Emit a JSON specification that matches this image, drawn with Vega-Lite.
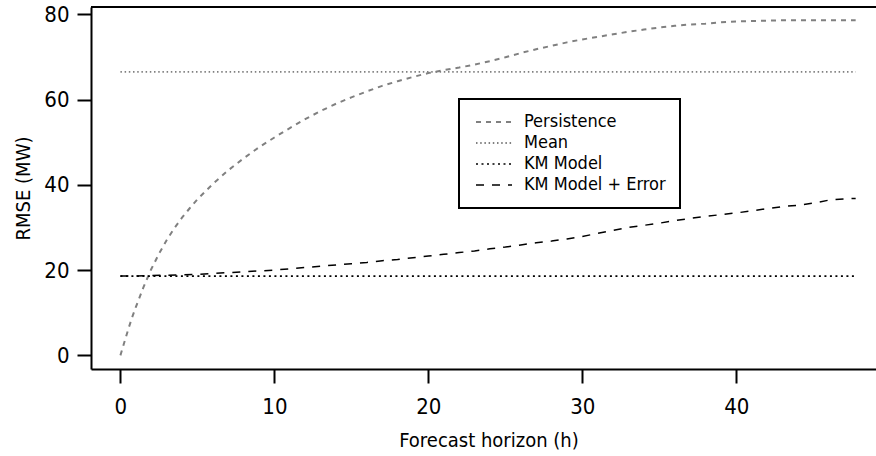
{
  "$schema": "https://vega.github.io/schema/vega-lite/v6.json",
  "width": 785,
  "height": 362,
  "autosize": {"type": "none"},
  "padding": {"left": 91, "top": 7, "right": 0, "bottom": 87},
  "background": "white",
  "config": {
    "view": {"stroke": null},
    "font": "DejaVu Sans Condensed, Roboto",
    "axis": {
      "grid": false,
      "domainColor": "black",
      "domainWidth": 2,
      "tickColor": "black",
      "tickWidth": 2,
      "tickSize": 14,
      "labelFont": "DejaVu Sans Condensed, Roboto",
      "labelFontSize": 22,
      "labelColor": "black",
      "titleFont": "DejaVu Sans Condensed, Roboto",
      "titleFontSize": 20,
      "titleFontWeight": "normal",
      "titleColor": "black"
    },
    "legend": {
      "labelFont": "DejaVu Sans Condensed, Roboto",
      "labelFontSize": 18,
      "labelColor": "black"
    }
  },
  "data": {
    "values": [
      {"h": 0, "rmse": 0, "series": "Persistence"},
      {"h": 0.25, "rmse": 3, "series": "Persistence"},
      {"h": 0.5, "rmse": 6, "series": "Persistence"},
      {"h": 0.75, "rmse": 8.8, "series": "Persistence"},
      {"h": 1, "rmse": 11.3, "series": "Persistence"},
      {"h": 1.5, "rmse": 16, "series": "Persistence"},
      {"h": 2, "rmse": 20.2, "series": "Persistence"},
      {"h": 2.5, "rmse": 23.8, "series": "Persistence"},
      {"h": 3, "rmse": 27, "series": "Persistence"},
      {"h": 3.5, "rmse": 29.8, "series": "Persistence"},
      {"h": 4, "rmse": 32.3, "series": "Persistence"},
      {"h": 4.5, "rmse": 34.5, "series": "Persistence"},
      {"h": 5, "rmse": 36.6, "series": "Persistence"},
      {"h": 6, "rmse": 40.2, "series": "Persistence"},
      {"h": 7, "rmse": 43.4, "series": "Persistence"},
      {"h": 8, "rmse": 46.2, "series": "Persistence"},
      {"h": 9, "rmse": 48.8, "series": "Persistence"},
      {"h": 10, "rmse": 51.1, "series": "Persistence"},
      {"h": 11, "rmse": 53.3, "series": "Persistence"},
      {"h": 12, "rmse": 55.4, "series": "Persistence"},
      {"h": 13, "rmse": 57.3, "series": "Persistence"},
      {"h": 14, "rmse": 59.0, "series": "Persistence"},
      {"h": 15, "rmse": 60.5, "series": "Persistence"},
      {"h": 16, "rmse": 61.9, "series": "Persistence"},
      {"h": 17, "rmse": 63.2, "series": "Persistence"},
      {"h": 18, "rmse": 64.3, "series": "Persistence"},
      {"h": 19, "rmse": 65.3, "series": "Persistence"},
      {"h": 20, "rmse": 66.2, "series": "Persistence"},
      {"h": 21, "rmse": 66.9, "series": "Persistence"},
      {"h": 22, "rmse": 67.5, "series": "Persistence"},
      {"h": 23, "rmse": 68.2, "series": "Persistence"},
      {"h": 24, "rmse": 69.0, "series": "Persistence"},
      {"h": 25, "rmse": 69.9, "series": "Persistence"},
      {"h": 26, "rmse": 70.9, "series": "Persistence"},
      {"h": 27, "rmse": 71.8, "series": "Persistence"},
      {"h": 28, "rmse": 72.6, "series": "Persistence"},
      {"h": 29, "rmse": 73.4, "series": "Persistence"},
      {"h": 30, "rmse": 74.1, "series": "Persistence"},
      {"h": 31, "rmse": 74.7, "series": "Persistence"},
      {"h": 32, "rmse": 75.3, "series": "Persistence"},
      {"h": 33, "rmse": 75.9, "series": "Persistence"},
      {"h": 34, "rmse": 76.4, "series": "Persistence"},
      {"h": 35, "rmse": 76.9, "series": "Persistence"},
      {"h": 36, "rmse": 77.3, "series": "Persistence"},
      {"h": 37, "rmse": 77.6, "series": "Persistence"},
      {"h": 38, "rmse": 77.8, "series": "Persistence"},
      {"h": 39, "rmse": 78.1, "series": "Persistence"},
      {"h": 40, "rmse": 78.3, "series": "Persistence"},
      {"h": 41, "rmse": 78.4, "series": "Persistence"},
      {"h": 42, "rmse": 78.5, "series": "Persistence"},
      {"h": 43, "rmse": 78.6, "series": "Persistence"},
      {"h": 44, "rmse": 78.6, "series": "Persistence"},
      {"h": 45, "rmse": 78.6, "series": "Persistence"},
      {"h": 46, "rmse": 78.6, "series": "Persistence"},
      {"h": 47, "rmse": 78.6, "series": "Persistence"},
      {"h": 47.75, "rmse": 78.6, "series": "Persistence"},
      {"h": 0, "rmse": 66.5, "series": "Mean"},
      {"h": 47.75, "rmse": 66.5, "series": "Mean"},
      {"h": 0, "rmse": 18.6, "series": "KM Model"},
      {"h": 47.75, "rmse": 18.6, "series": "KM Model"},
      {"h": 0, "rmse": 18.6, "series": "KM Model + Error"},
      {"h": 1, "rmse": 18.6, "series": "KM Model + Error"},
      {"h": 2, "rmse": 18.7, "series": "KM Model + Error"},
      {"h": 3, "rmse": 18.8, "series": "KM Model + Error"},
      {"h": 4, "rmse": 18.9, "series": "KM Model + Error"},
      {"h": 5, "rmse": 19.0, "series": "KM Model + Error"},
      {"h": 6, "rmse": 19.2, "series": "KM Model + Error"},
      {"h": 7, "rmse": 19.4, "series": "KM Model + Error"},
      {"h": 8, "rmse": 19.6, "series": "KM Model + Error"},
      {"h": 9, "rmse": 19.8, "series": "KM Model + Error"},
      {"h": 10, "rmse": 20.0, "series": "KM Model + Error"},
      {"h": 11, "rmse": 20.3, "series": "KM Model + Error"},
      {"h": 12, "rmse": 20.6, "series": "KM Model + Error"},
      {"h": 13, "rmse": 20.9, "series": "KM Model + Error"},
      {"h": 14, "rmse": 21.2, "series": "KM Model + Error"},
      {"h": 15, "rmse": 21.5, "series": "KM Model + Error"},
      {"h": 16, "rmse": 21.8, "series": "KM Model + Error"},
      {"h": 17, "rmse": 22.2, "series": "KM Model + Error"},
      {"h": 18, "rmse": 22.5, "series": "KM Model + Error"},
      {"h": 19, "rmse": 22.9, "series": "KM Model + Error"},
      {"h": 20, "rmse": 23.3, "series": "KM Model + Error"},
      {"h": 21, "rmse": 23.7, "series": "KM Model + Error"},
      {"h": 22, "rmse": 24.1, "series": "KM Model + Error"},
      {"h": 23, "rmse": 24.5, "series": "KM Model + Error"},
      {"h": 24, "rmse": 25.0, "series": "KM Model + Error"},
      {"h": 25, "rmse": 25.4, "series": "KM Model + Error"},
      {"h": 26, "rmse": 25.9, "series": "KM Model + Error"},
      {"h": 27, "rmse": 26.4, "series": "KM Model + Error"},
      {"h": 28, "rmse": 26.8, "series": "KM Model + Error"},
      {"h": 29, "rmse": 27.3, "series": "KM Model + Error"},
      {"h": 30, "rmse": 27.9, "series": "KM Model + Error"},
      {"h": 31, "rmse": 28.6, "series": "KM Model + Error"},
      {"h": 32, "rmse": 29.3, "series": "KM Model + Error"},
      {"h": 33, "rmse": 30.0, "series": "KM Model + Error"},
      {"h": 34, "rmse": 30.5, "series": "KM Model + Error"},
      {"h": 35, "rmse": 31.0, "series": "KM Model + Error"},
      {"h": 36, "rmse": 31.6, "series": "KM Model + Error"},
      {"h": 37, "rmse": 32.1, "series": "KM Model + Error"},
      {"h": 38, "rmse": 32.6, "series": "KM Model + Error"},
      {"h": 39, "rmse": 33.0, "series": "KM Model + Error"},
      {"h": 40, "rmse": 33.4, "series": "KM Model + Error"},
      {"h": 41, "rmse": 33.9, "series": "KM Model + Error"},
      {"h": 42, "rmse": 34.4, "series": "KM Model + Error"},
      {"h": 43, "rmse": 34.9, "series": "KM Model + Error"},
      {"h": 44, "rmse": 35.2, "series": "KM Model + Error"},
      {"h": 45, "rmse": 35.7, "series": "KM Model + Error"},
      {"h": 46, "rmse": 36.4, "series": "KM Model + Error"},
      {"h": 47, "rmse": 36.7, "series": "KM Model + Error"},
      {"h": 47.75, "rmse": 36.8, "series": "KM Model + Error"}
    ]
  },
  "layer": [
    {
      "mark": {"type": "line", "clip": true},
      "encoding": {
        "x": {
          "field": "h", "type": "quantitative",
          "scale": {"domain": [-1.91, 49.07], "nice": false, "zero": false},
          "axis": {
            "orient": "bottom",
            "values": [0, 10, 20, 30, 40],
            "title": "Forecast horizon (h)",
            "labelPadding": 13,
            "titleX": 397.5,
            "titleY": 77,
            "titleBaseline": "alphabetic",
            "titleAlign": "center"
          }
        },
        "y": {
          "field": "rmse", "type": "quantitative",
          "scale": {"domain": [-3.2, 81.7], "nice": false, "zero": false},
          "axis": {
            "values": [0, 20, 40, 60, 80],
            "title": "RMSE (MW)",
            "labelPadding": 8,
            "titleX": -62,
            "titleY": 181,
            "titleBaseline": "alphabetic",
            "titleAngle": 270,
            "titleAlign": "center"
          }
        },
        "color": {
          "field": "series", "type": "nominal",
          "scale": {
            "domain": ["Persistence", "Mean", "KM Model", "KM Model + Error"],
            "range": ["#808080", "#808080", "#000000", "#000000"]
          },
          "legend": {
            "title": null,
            "orient": "none",
            "legendX": 368,
            "legendY": 92,
            "padding": 14,
            "symbolType": "M-1,0H5",
            "symbolSize": 144,
            "labelOffset": 33,
            "rowPadding": 3,
            "encode": {"legend": {"update": {"stroke": {"value": "black"}, "strokeWidth": {"value": 2}}}}
          }
        },
        "strokeDash": {
          "field": "series", "type": "nominal",
          "scale": {
            "domain": ["Persistence", "Mean", "KM Model", "KM Model + Error"],
            "range": [[5, 5], [1.5, 2.7], [2, 3.5], [8, 8]]
          },
          "legend": {
            "title": null,
            "orient": "none",
            "legendX": 368,
            "legendY": 92,
            "padding": 14,
            "symbolType": "M-1,0H5",
            "symbolSize": 144,
            "labelOffset": 33,
            "rowPadding": 3,
            "encode": {"legend": {"update": {"stroke": {"value": "black"}, "strokeWidth": {"value": 2}}}}
          }
        },
        "strokeWidth": {
          "field": "series", "type": "nominal",
          "scale": {
            "domain": ["Persistence", "Mean", "KM Model", "KM Model + Error"],
            "range": [2, 1.5, 2, 2]
          },
          "legend": {
            "title": null,
            "orient": "none",
            "legendX": 368,
            "legendY": 92,
            "padding": 14,
            "symbolType": "M-1,0H5",
            "symbolSize": 144,
            "labelOffset": 33,
            "rowPadding": 3,
            "encode": {"legend": {"update": {"stroke": {"value": "black"}, "strokeWidth": {"value": 2}}}}
          }
        }
      }
    },
    {
      "mark": {"type": "rule", "color": "black", "strokeWidth": 2},
      "encoding": {
        "y": {"datum": 81.7, "type": "quantitative"}
      }
    }
  ]
}
